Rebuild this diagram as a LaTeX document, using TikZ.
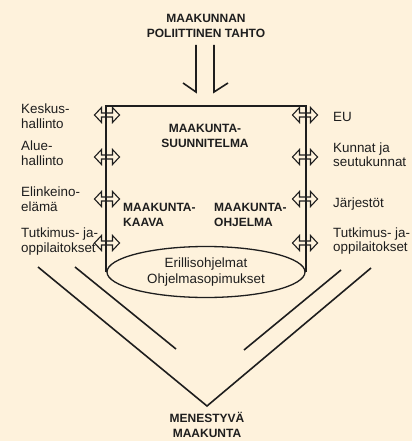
\documentclass[tikz,border=0pt]{standalone}
\usepackage{fontspec}
\setmainfont{Liberation Sans}
\usetikzlibrary{shapes.geometric}
\definecolor{bg}{RGB}{254,242,220}
\definecolor{ink}{RGB}{30,30,30}
\tikzset{
  lbl/.style={font=\fontsize{13.4}{14.5}\selectfont, align=left, inner sep=0pt, text=ink, anchor=west},
  ttl/.style={font=\fontsize{12}{15}\selectfont\bfseries, align=center, inner sep=0pt, text=ink},
  ttll/.style={ttl, align=left, anchor=west},
  dbla/.pic={\draw[draw=ink, line width=1.1pt, line join=miter]
     (-12.5,0) -- (-5.5,-7.5) -- (-5.5,-2) -- (5.5,-2) -- (5.5,-7.5) -- (12.5,0)
     -- (5.5,7.5) -- (5.5,2) -- (-5.5,2) -- (-5.5,7.5) -- cycle;},
  thick line/.style={draw=ink, line width=1.8pt},
  vline/.style={draw=ink, line width=1.6pt},
}
\begin{document}
\begin{tikzpicture}[x=1pt,y=-1pt]
\fill[bg] (0,0) rectangle (412,441);
\useasboundingbox (0,0) rectangle (412,441);

% title
\node[ttl] (title) at (206,25.5) {MAAKUNNAN\\POLIITTINEN TAHTO};

% downward half-arrows
\coordinate (d1s) at (196,45); \coordinate (d1e) at (196,92); \coordinate (d1b) at (183,83);
\coordinate (d2s) at (214,45); \coordinate (d2e) at (214,92); \coordinate (d2b) at (228,83);
\draw[vline, line join=miter] (d1s) -- (d1e) -- (d1b);
\draw[vline, line join=miter] (d2s) -- (d2e) -- (d2b);

% cylinder
\node[ellipse, draw=ink, line width=1.3pt, fill=bg, minimum width=198pt, minimum height=51pt, inner sep=0pt,
  font=\fontsize{13.4}{16.5}\selectfont, text=ink, align=center] (ell) at (206,272) {Erillisohjelmat\\Ohjelmasopimukset};
\draw[thick line, line join=miter] (ell.west) -- ++(0,-166) coordinate (tl) -| (ell.east);

% side arrows
\foreach \y/\n in {115/1,157/2,199/3,243/4}{
  \pic (la\n) at (107,\y) {dbla};
  \pic (ra\n) at (305,\y) {dbla};
}

% left labels
\node[lbl] (l1) at (21,116) {Keskus-\\hallinto};
\node[lbl] (l2) at (21,153) {Alue-\\hallinto};
\node[lbl] (l3) at (21,199) {Elinkeino-\\elämä};
\node[lbl] (l4) at (21,241.5) {Tutkimus- ja-\\oppilaitokset};
% right labels
\node[lbl] (r1) at (333,116.5) {EU};
\node[lbl] (r2) at (333,154.5) {Kunnat ja\\seutukunnat};
\node[lbl] (r3) at (333,204) {Järjestöt};
\node[lbl] (r4) at (333,241) {Tutkimus- ja-\\oppilaitokset};

% inner titles
\node[ttl] (suun) at (205,136) {MAAKUNTA-\\SUUNNITELMA};
\node[ttll] (kaava) at (123,214.5) {MAAKUNTA-\\KAAVA};
\node[ttll] (ohj) at (214,214.5) {MAAKUNTA-\\OHJELMA};

% V lines
\coordinate (vlo) at (38,267); \coordinate (vli) at (75,267);
\coordinate (vro) at (371,268); \coordinate (vri) at (341,270);
\coordinate (apex) at (207,406);
\coordinate (ili) at (176,349); \coordinate (iri) at (244,350);
\draw[vline, line join=miter] (vlo) -- (apex) -- (vro);
\draw[vline] (vli) -- (ili);
\draw[vline] (vri) -- (iri);

% bottom title
\node[ttl] (men) at (207,425) {MENESTYVÄ\\MAAKUNTA};
\end{tikzpicture}
\end{document}
